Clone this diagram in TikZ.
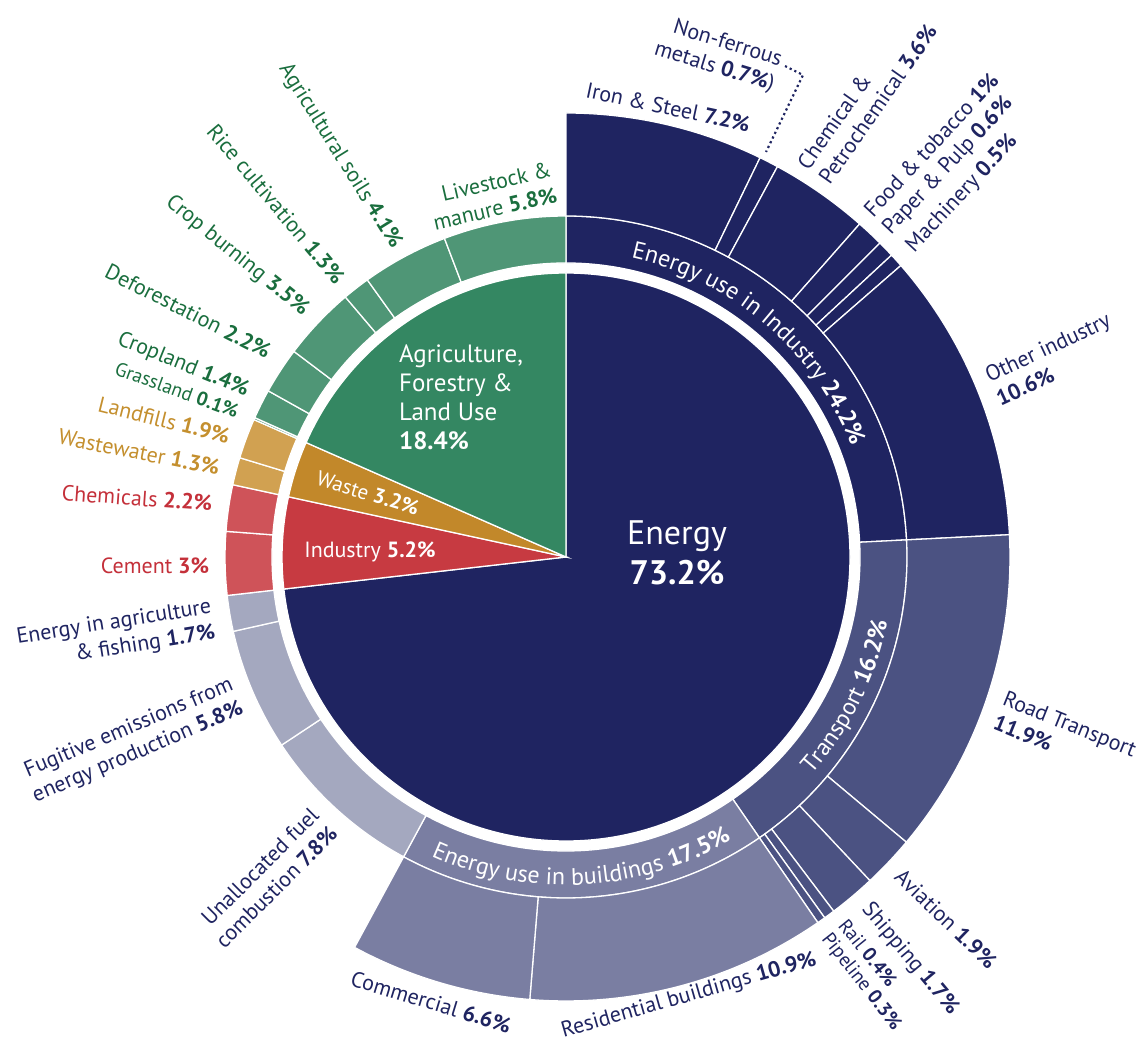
\documentclass[tikz,border=0pt]{standalone}
\usepackage{fontspec}
\setmainfont{PT Sans}
\usetikzlibrary{decorations.text}
\definecolor{navy}{HTML}{1F2461}
\definecolor{transc}{HTML}{4B5282}
\definecolor{bldgc}{HTML}{7A7EA2}
\definecolor{greyb}{HTML}{A4A8BF}
\definecolor{agric}{HTML}{348762}
\definecolor{agriring}{HTML}{4F9676}
\definecolor{wastec}{HTML}{C2882A}
\definecolor{wastering}{HTML}{D1A151}
\definecolor{indusc}{HTML}{C73A41}
\definecolor{indusring}{HTML}{CF5359}
\definecolor{greentext}{HTML}{1A6E3E}
\definecolor{goldtext}{HTML}{C48F2E}
\definecolor{redtext}{HTML}{C4303A}
\newcommand\ringseg[5]{\fill[#5, draw=white, line width=1.3pt] (#1:#3) arc[start angle=#1, end angle=#2, radius=#3] -- (#2:#4) arc[start angle=#2, end angle=#1, radius=#4] -- cycle;}
\newcommand\pieslice[3]{\fill[#3, draw=white, line width=1.3pt] (0,0) -- (#1:284) arc[start angle=#1, end angle=#2, radius=284] -- cycle;}
\begin{document}
\begin{tikzpicture}[x=1pt,y=1pt,
  lbl/.style={font=\fontsize{22}{26}\selectfont, text=navy, inner sep=0pt},
  lblsm/.style={font=\fontsize{19.5}{22}\selectfont, text=navy, inner sep=0pt},
  inlbl/.style={text=white, inner sep=0pt},
  leader/.style={navy, line width=2.2pt, dash pattern=on 2.2pt off 3pt}]
\useasboundingbox (0,0) rectangle (1146,1042);
\begin{scope}[shift={(566,485)}]
% inner pie
\pieslice{90}{-173.52}{navy}
\pieslice{-173.52}{-192.24}{indusc}
\pieslice{-192.24}{-203.76}{wastec}
\pieslice{-203.76}{-270}{agric}
% ring 1
\ringseg{90}{2.88}{294}{341}{navy}
\ringseg{2.88}{-55.44}{294}{341}{transc}
\ringseg{-55.44}{-118.44}{294}{341}{bldgc}
\ringseg{-118.44}{-146.52}{294}{341}{greyb}
\ringseg{-146.52}{-167.4}{294}{341}{greyb}
\ringseg{-167.4}{-173.52}{294}{341}{greyb}
\ringseg{-173.52}{-184.32}{294}{341}{indusring}
\ringseg{-184.32}{-192.24}{294}{341}{indusring}
\ringseg{-192.24}{-196.92}{294}{341}{wastering}
\ringseg{-196.92}{-203.76}{294}{341}{wastering}
\ringseg{-203.76}{-204.12}{294}{341}{agriring}
\ringseg{-204.12}{-209.16}{294}{341}{agriring}
\ringseg{-209.16}{-217.08}{294}{341}{agriring}
\ringseg{-217.08}{-229.68}{294}{341}{agriring}
\ringseg{-229.68}{-234.36}{294}{341}{agriring}
\ringseg{-234.36}{-249.12}{294}{341}{agriring}
\ringseg{-249.12}{-270}{294}{341}{agriring}
% ring 2
\ringseg{90}{64.08}{341}{444}{navy}
\ringseg{64.08}{61.56}{341}{444}{navy}
\ringseg{61.56}{48.6}{341}{444}{navy}
\ringseg{48.6}{45}{341}{444}{navy}
\ringseg{45}{42.84}{341}{444}{navy}
\ringseg{42.84}{41.04}{341}{444}{navy}
\ringseg{41.04}{2.88}{341}{444}{navy}
\ringseg{2.88}{-39.96}{341}{444}{transc}
\ringseg{-39.96}{-46.8}{341}{444}{transc}
\ringseg{-46.8}{-52.92}{341}{444}{transc}
\ringseg{-52.92}{-54.36}{341}{444}{transc}
\ringseg{-54.36}{-55.44}{341}{444}{transc}
\ringseg{-55.44}{-94.68}{341}{444}{bldgc}
\ringseg{-94.68}{-118.44}{341}{444}{bldgc}
% curved labels
\path[decorate, decoration={text along path, text align=center, text color=white,
  text={|\fontsize{24}{28}\selectfont|Energy use in Industry |\fontsize{24}{28}\selectfont\bfseries|24.2{\%}}}]
  (91:306) arc[start angle=91, end angle=8, radius=306];
\path[decorate, decoration={text along path, text align=center, text color=white,
  text={|\fontsize{24}{28}\selectfont|Transport |\fontsize{24}{28}\selectfont\bfseries|16.2{\%}}}]
  (-54:328) arc[start angle=-54, end angle=1, radius=328];
\path[decorate, decoration={text along path, text align=center, text color=white,
  text={|\fontsize{24}{28}\selectfont|Energy use in buildings |\fontsize{24}{28}\selectfont\bfseries|17.5{\%}}}]
  (-121:328) arc[start angle=-121, end angle=-53, radius=328];
\end{scope}
% inner labels
\node[inlbl, font=\fontsize{34}{40}\selectfont, align=center] (energy) at (677,489) {Energy\\\textbf{73.2\%}};
\node[inlbl, font=\fontsize{25}{29}\selectfont, align=left] (afolu) at (461,645) {Agriculture,\\Forestry \&\\Land Use\\\textbf{18.4\%}};
\node[inlbl, font=\fontsize{21}{25}\selectfont, rotate=-17] (waste) at (368,549) {Waste \textbf{3.2\%}};
\node[inlbl, font=\fontsize{22}{26}\selectfont] (industry) at (370,490) {Industry \textbf{5.2\%}};
% outer labels
\node[lbl, rotate=-12] (ironsteel) at (668,935) {Iron \& Steel \textbf{7.2\%}};
\node[lbl, rotate=-17, align=right] (nonferrous) at (718,987) {Non-ferrous\\metals \textbf{0.7\%})};
\node[lbl, rotate=55, align=left] (chem) at (867,945) {Chemical \&\\Petrochemical \textbf{3.6\%}};
\node[lbl, rotate=47] (food) at (931,897) {Food \& tobacco \textbf{1\%}};
\node[lbl, rotate=47] (paper) at (948,876) {Paper \& Pulp \textbf{0.6\%}};
\node[lbl, rotate=47] (mach) at (962,848) {Machinery \textbf{0.5\%}};
\node[lbl, rotate=25, align=left] (otherind) at (1053,683) {Other industry\\\textbf{10.6\%}};
\node[lbl, rotate=-22, align=left] (road) at (1065,306) {Road Transport\\\textbf{11.9\%}};
\node[lbl, rotate=-44] (aviation) at (946,123) {Aviation \textbf{1.9\%}};
\node[lbl, rotate=-50] (shipping) at (910,83) {Shipping \textbf{1.7\%}};
\node[lblsm, rotate=-51] (rail) at (868,89) {Rail \textbf{0.4\%}};
\node[lblsm, rotate=-52] (pipeline) at (861,60) {Pipeline \textbf{0.3\%}};
\node[lbl, rotate=16] (resid) at (689,46) {Residential buildings \textbf{10.9\%}};
\node[lbl, rotate=-17] (comm) at (431,40) {Commercial \textbf{6.6\%}};
\node[lbl, rotate=45, align=right] (unalloc) at (267,164) {Unallocated fuel\\combustion \textbf{7.8\%}};
\node[lbl, rotate=23, align=right] (fugitive) at (133,301) {Fugitive emissions from\\energy production \textbf{5.8\%}};
\node[lbl, rotate=9, align=right] (enagri) at (116,406) {Energy in agriculture\\\& fishing \textbf{1.7\%}};
\node[lbl, text=redtext] (cement) at (155,476) {Cement \textbf{3\%}};
\node[lbl, text=redtext, rotate=-4] (chemicals) at (137,544) {Chemicals \textbf{2.2\%}};
\node[lbl, text=goldtext, rotate=-11] (wastewater) at (139,590) {Wastewater \textbf{1.3\%}};
\node[lbl, text=goldtext, rotate=-14] (landfills) at (164,622) {Landfills \textbf{1.9\%}};
\node[lblsm, text=greentext, rotate=-20] (grassland) at (177,652) {Grassland \textbf{0.1\%}};
\node[lbl, text=greentext, rotate=-22] (cropland) at (183,677) {Cropland \textbf{1.4\%}};
\node[lbl, text=greentext, rotate=-27] (defor) at (188,731) {Deforestation \textbf{2.2\%}};
\node[lbl, text=greentext, rotate=-39] (cropburn) at (237,786) {Crop burning \textbf{3.5\%}};
\node[lbl, text=greentext, rotate=-50] (rice) at (276,838) {Rice cultivation \textbf{1.3\%}};
\node[lbl, text=greentext, rotate=-58] (agsoils) at (340,886) {Agricultural soils \textbf{4.1\%}};
\node[lbl, text=greentext, rotate=13, align=right] (livestock) at (492,846) {Livestock \&\\manure \textbf{5.8\%}};
% leader for non-ferrous metals
\coordinate (nfa) at (785,976);
\coordinate (nfb) at (803,967);
\coordinate (nfc) at (766,890);
\draw[leader] (nfa) -- (nfb) -- (nfc);
\end{tikzpicture}
\end{document}
